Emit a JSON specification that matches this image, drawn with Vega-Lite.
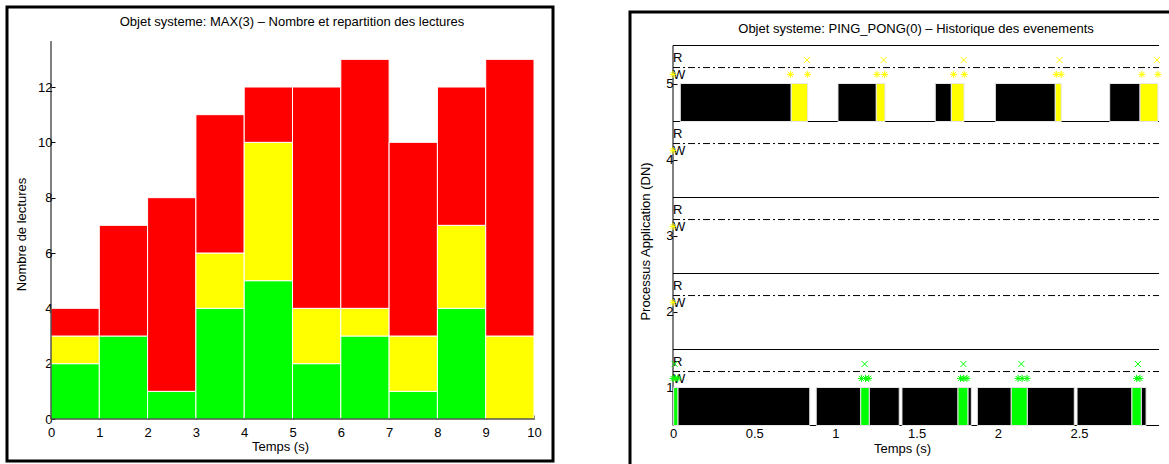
{
  "$schema": "https://vega.github.io/schema/vega-lite/v6.json",
  "padding": {"left": 5, "top": 5, "right": 0, "bottom": 0},
  "spacing": 73,
  "config": {
    "font": "Liberation Sans",
    "axis": {"labelFont": "Liberation Sans", "titleFont": "Liberation Sans", "labelFontSize": 13, "titleFontSize": 13, "titleFontWeight": "normal", "labelColor": "#000", "titleColor": "#000", "tickColor": "#000", "grid": false},
    "title": {"font": "Liberation Sans", "fontSize": 13, "fontWeight": "normal", "color": "#000"}
  },
  "resolve": {"scale": {"color": "independent"}},
  "hconcat": [
    {
      "width": 546,
      "height": 454,
      "view": {"stroke": "#000", "strokeWidth": 3},
      "title": {"text": "Objet systeme: MAX(3) – Nombre et repartition des lectures", "offset": -22, "dx": 12, "frame": "group"},
      "layer": [
        {
          "data": {"values": [
            {"t0": 0, "t1": 1, "cat": "vert", "y0": 0, "y1": 2},
            {"t0": 0, "t1": 1, "cat": "jaune", "y0": 2, "y1": 3},
            {"t0": 0, "t1": 1, "cat": "rouge", "y0": 3, "y1": 4},
            {"t0": 1, "t1": 2, "cat": "vert", "y0": 0, "y1": 3},
            {"t0": 1, "t1": 2, "cat": "rouge", "y0": 3, "y1": 7},
            {"t0": 2, "t1": 3, "cat": "vert", "y0": 0, "y1": 1},
            {"t0": 2, "t1": 3, "cat": "rouge", "y0": 1, "y1": 8},
            {"t0": 3, "t1": 4, "cat": "vert", "y0": 0, "y1": 4},
            {"t0": 3, "t1": 4, "cat": "jaune", "y0": 4, "y1": 6},
            {"t0": 3, "t1": 4, "cat": "rouge", "y0": 6, "y1": 11},
            {"t0": 4, "t1": 5, "cat": "vert", "y0": 0, "y1": 5},
            {"t0": 4, "t1": 5, "cat": "jaune", "y0": 5, "y1": 10},
            {"t0": 4, "t1": 5, "cat": "rouge", "y0": 10, "y1": 12},
            {"t0": 5, "t1": 6, "cat": "vert", "y0": 0, "y1": 2},
            {"t0": 5, "t1": 6, "cat": "jaune", "y0": 2, "y1": 4},
            {"t0": 5, "t1": 6, "cat": "rouge", "y0": 4, "y1": 12},
            {"t0": 6, "t1": 7, "cat": "vert", "y0": 0, "y1": 3},
            {"t0": 6, "t1": 7, "cat": "jaune", "y0": 3, "y1": 4},
            {"t0": 6, "t1": 7, "cat": "rouge", "y0": 4, "y1": 13},
            {"t0": 7, "t1": 8, "cat": "vert", "y0": 0, "y1": 1},
            {"t0": 7, "t1": 8, "cat": "jaune", "y0": 1, "y1": 3},
            {"t0": 7, "t1": 8, "cat": "rouge", "y0": 3, "y1": 10},
            {"t0": 8, "t1": 9, "cat": "vert", "y0": 0, "y1": 4},
            {"t0": 8, "t1": 9, "cat": "jaune", "y0": 4, "y1": 7},
            {"t0": 8, "t1": 9, "cat": "rouge", "y0": 7, "y1": 12},
            {"t0": 9, "t1": 10, "cat": "jaune", "y0": 0, "y1": 3},
            {"t0": 9, "t1": 10, "cat": "rouge", "y0": 3, "y1": 13}
          ]},
          "mark": {"type": "rect", "stroke": "#fff", "strokeWidth": 1},
          "encoding": {
            "x": {"field": "t0", "type": "quantitative", "scale": {"domain": [-0.911, 10.393], "nice": false, "zero": false},
                  "axis": {"values": [0,1,2,3,4,5,6,7,8,9,10], "format": "d", "offset": -42, "domain": false, "tickSize": -4, "labelPadding": 11, "title": "Temps (s)", "titlePadding": 1}},
            "x2": {"field": "t1"},
            "y": {"field": "y0", "type": "quantitative", "scale": {"domain": [-1.518, 14.892], "nice": false, "zero": false},
                  "axis": {"values": [0,2,4,6,8,10,12], "format": "d", "offset": -44, "domain": false, "tickSize": -4, "labelPadding": 3, "title": "Nombre de lectures", "titlePadding": 9}},
            "y2": {"field": "y1"},
            "color": {"field": "cat", "type": "nominal", "scale": {"domain": ["vert", "jaune", "rouge"], "range": ["#00ff00", "#ffff00", "#ff0000"]}, "legend": null}
          }
        },
        {
          "data": {"values": [
            {"x0": 0, "x1": 0, "y0": 0, "y1": 13.66},
            {"x0": 0, "x1": 10, "y0": 0, "y1": 0}
          ]},
          "mark": {"type": "rule", "color": "#000", "strokeWidth": 1},
          "encoding": {
            "x": {"field": "x0", "type": "quantitative"},
            "x2": {"field": "x1"},
            "y": {"field": "y0", "type": "quantitative"},
            "y2": {"field": "y1"}
          }
        }
      ]
    },
    {
      "spacing": 0,
      "vconcat": [
        {
          "width": 544,
          "height": 3,
          "view": {"stroke": null},
          "data": {"values": []},
          "mark": "point"
        },
        {
          "width": 544,
          "height": 458,
          "view": {"stroke": "#000", "strokeWidth": 3},
          "title": {"text": "Objet systeme: PING_PONG(0) – Historique des evenements", "offset": -24, "dx": 14, "frame": "group"},
          "layer": [
            {
              "data": {"values": [
                {"x0": 0, "x1": 2.993, "y0": 0.5, "y1": 0.5},
                {"x0": 0, "x1": 2.993, "y0": 1.5, "y1": 1.5},
                {"x0": 0, "x1": 2.993, "y0": 2.5, "y1": 2.5},
                {"x0": 0, "x1": 2.993, "y0": 3.5, "y1": 3.5},
                {"x0": 0, "x1": 2.993, "y0": 4.5, "y1": 4.5},
                {"x0": 0, "x1": 2.993, "y0": 5.5, "y1": 5.5},
                {"x0": 0, "x1": 0, "y0": 0.5, "y1": 5.5}
              ]},
              "mark": {"type": "rule", "color": "#000", "strokeWidth": 1},
              "encoding": {
                "x": {"field": "x0", "type": "quantitative", "scale": {"domain": [-0.2648, 3.085], "nice": false, "zero": false},
                      "axis": {"values": [0, 0.5, 1, 1.5, 2, 2.5], "format": "~g", "offset": -44.5, "domain": false, "tickSize": -4, "labelPadding": 6, "title": "Temps (s)", "titlePadding": 2}},
                "x2": {"field": "x1"},
                "y": {"field": "y0", "type": "quantitative", "scale": {"domain": [-0.0855, 5.941], "nice": false, "zero": false},
                      "axis": {"values": [1, 2, 3, 4, 5], "format": "d", "offset": -43, "domain": false, "tickSize": -4, "labelPadding": 4, "title": "Processus Application (DN)", "titlePadding": 13}},
                "y2": {"field": "y1"}
              }
            },
            {
              "data": {"values": [
                {"p": 5, "t0": 0.045, "t1": 0.728, "k": "noir"},
                {"p": 5, "t0": 0.728, "t1": 0.829, "k": "jaune"},
                {"p": 5, "t0": 1.016, "t1": 1.252, "k": "noir"},
                {"p": 5, "t0": 1.252, "t1": 1.305, "k": "jaune"},
                {"p": 5, "t0": 1.615, "t1": 1.714, "k": "noir"},
                {"p": 5, "t0": 1.714, "t1": 1.792, "k": "jaune"},
                {"p": 5, "t0": 1.985, "t1": 2.354, "k": "noir"},
                {"p": 5, "t0": 2.354, "t1": 2.391, "k": "jaune"},
                {"p": 5, "t0": 2.689, "t1": 2.876, "k": "noir"},
                {"p": 5, "t0": 2.876, "t1": 2.986, "k": "jaune"},
                {"p": 1, "t0": 0.004, "t1": 0.031, "k": "vert"},
                {"p": 1, "t0": 0.031, "t1": 0.842, "k": "noir"},
                {"p": 1, "t0": 0.882, "t1": 1.156, "k": "noir"},
                {"p": 1, "t0": 1.156, "t1": 1.209, "k": "vert"},
                {"p": 1, "t0": 1.209, "t1": 1.393, "k": "noir"},
                {"p": 1, "t0": 1.41, "t1": 1.755, "k": "noir"},
                {"p": 1, "t0": 1.755, "t1": 1.817, "k": "vert"},
                {"p": 1, "t0": 1.817, "t1": 1.837, "k": "noir"},
                {"p": 1, "t0": 1.874, "t1": 2.083, "k": "noir"},
                {"p": 1, "t0": 2.083, "t1": 2.182, "k": "vert"},
                {"p": 1, "t0": 2.182, "t1": 2.471, "k": "noir"},
                {"p": 1, "t0": 2.488, "t1": 2.826, "k": "noir"},
                {"p": 1, "t0": 2.826, "t1": 2.884, "k": "vert"},
                {"p": 1, "t0": 2.884, "t1": 2.913, "k": "noir"}
              ]},
              "transform": [{"calculate": "datum.p - 0.5", "as": "pb"}],
              "mark": {"type": "rect", "stroke": "#e6e6e6", "strokeWidth": 1},
              "encoding": {
                "x": {"field": "t0", "type": "quantitative"},
                "x2": {"field": "t1"},
                "y": {"field": "pb", "type": "quantitative"},
                "y2": {"field": "p"},
                "color": {"field": "k", "type": "nominal", "scale": {"domain": ["noir", "jaune", "vert"], "range": ["#000000", "#ffff00", "#00ff00"]}, "legend": null}
              }
            },
            {
              "data": {"values": [
                {"x0": 0, "x1": 2.993, "y": 1.21},
                {"x0": 0, "x1": 2.993, "y": 2.21},
                {"x0": 0, "x1": 2.993, "y": 3.21},
                {"x0": 0, "x1": 2.993, "y": 4.21},
                {"x0": 0, "x1": 2.993, "y": 5.21}
              ]},
              "mark": {"type": "rule", "color": "#000", "strokeWidth": 1, "strokeDash": [7, 3, 2, 3]},
              "encoding": {
                "x": {"field": "x0", "type": "quantitative"},
                "x2": {"field": "x1"},
                "y": {"field": "y", "type": "quantitative"}
              }
            },
            {
              "data": {"values": [
                {"p": 1, "lab": "R", "y": 1.33}, {"p": 1, "lab": "W", "y": 1.11},
                {"p": 2, "lab": "R", "y": 2.33}, {"p": 2, "lab": "W", "y": 2.11},
                {"p": 3, "lab": "R", "y": 3.33}, {"p": 3, "lab": "W", "y": 3.11},
                {"p": 4, "lab": "R", "y": 4.33}, {"p": 4, "lab": "W", "y": 4.11},
                {"p": 5, "lab": "R", "y": 5.33}, {"p": 5, "lab": "W", "y": 5.11}
              ]},
              "mark": {"type": "text", "align": "left", "baseline": "middle", "fontSize": 13, "color": "#000", "dx": 0},
              "encoding": {
                "x": {"datum": 0, "type": "quantitative"},
                "y": {"field": "y", "type": "quantitative"},
                "text": {"field": "lab"}
              }
            },
            {
              "data": {"values": [
                {"p": 5, "t": 0, "c": "jaune"}, {"p": 5, "t": 0.723, "c": "jaune"}, {"p": 5, "t": 0.829, "c": "jaune"},
                {"p": 5, "t": 1.256, "c": "jaune"}, {"p": 5, "t": 1.303, "c": "jaune"},
                {"p": 5, "t": 1.728, "c": "jaune"}, {"p": 5, "t": 1.794, "c": "jaune"},
                {"p": 5, "t": 2.36, "c": "jaune"}, {"p": 5, "t": 2.39, "c": "jaune"},
                {"p": 5, "t": 2.887, "c": "jaune"}, {"p": 5, "t": 2.986, "c": "jaune"},
                {"p": 4, "t": 0, "c": "jaune"}, {"p": 3, "t": 0, "c": "jaune"}, {"p": 2, "t": 0, "c": "jaune"},
                {"p": 1, "t": 0, "c": "vert"}, {"p": 1, "t": 0.015, "c": "vert"}, {"p": 1, "t": 0.03, "c": "vert"},
                {"p": 1, "t": 1.16, "c": "vert"}, {"p": 1, "t": 1.185, "c": "vert"}, {"p": 1, "t": 1.205, "c": "vert"},
                {"p": 1, "t": 1.77, "c": "vert"}, {"p": 1, "t": 1.79, "c": "vert"}, {"p": 1, "t": 1.81, "c": "vert"},
                {"p": 1, "t": 2.125, "c": "vert"}, {"p": 1, "t": 2.15, "c": "vert"}, {"p": 1, "t": 2.18, "c": "vert"},
                {"p": 1, "t": 2.855, "c": "vert"}, {"p": 1, "t": 2.875, "c": "vert"}
              ]},
              "transform": [{"calculate": "datum.p + 0.12", "as": "y"}],
              "mark": {"type": "point", "shape": "M-1,0L1,0M0,-1L0,1M-0.7,-0.7L0.7,0.7M-0.7,0.7L0.7,-0.7", "filled": false, "size": 49, "strokeWidth": 1, "opacity": 1},
              "encoding": {
                "x": {"field": "t", "type": "quantitative"},
                "y": {"field": "y", "type": "quantitative"},
                "color": {"field": "c", "type": "nominal", "scale": {"domain": ["jaune", "vert"], "range": ["#ffff00", "#00ff00"]}, "legend": null}
              }
            },
            {
              "data": {"values": [
                {"p": 5, "t": 0.825, "c": "jaune"}, {"p": 5, "t": 1.297, "c": "jaune"}, {"p": 5, "t": 1.79, "c": "jaune"},
                {"p": 5, "t": 2.38, "c": "jaune"}, {"p": 5, "t": 2.98, "c": "jaune"},
                {"p": 1, "t": 0.01, "c": "vert"}, {"p": 1, "t": 1.18, "c": "vert"}, {"p": 1, "t": 1.788, "c": "vert"},
                {"p": 1, "t": 2.145, "c": "vert"}, {"p": 1, "t": 2.863, "c": "vert"}
              ]},
              "transform": [{"calculate": "datum.p + 0.31", "as": "y"}],
              "mark": {"type": "point", "shape": "M-1,-1L1,1M-1,1L1,-1", "filled": false, "size": 36, "strokeWidth": 1, "opacity": 1},
              "encoding": {
                "x": {"field": "t", "type": "quantitative"},
                "y": {"field": "y", "type": "quantitative"},
                "color": {"field": "c", "type": "nominal", "scale": {"domain": ["jaune", "vert"], "range": ["#ffff00", "#00ff00"]}, "legend": null}
              }
            }
          ]
        }
      ]
    }
  ]
}
